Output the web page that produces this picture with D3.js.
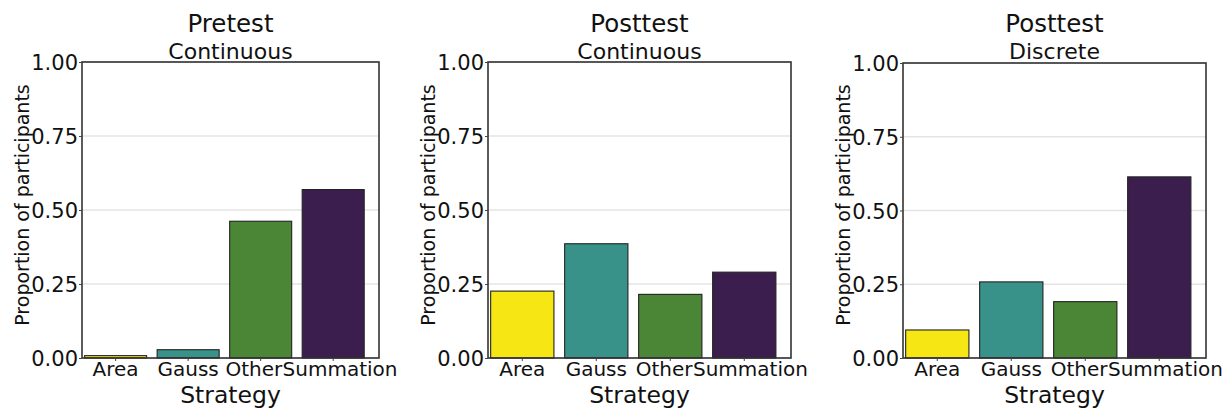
<!DOCTYPE html>
<html>
<head>
<meta charset="utf-8">
<script src="https://cdn.jsdelivr.net/npm/d3@7"></script>
<style>
    body { margin: 0; background: #fff; }
    text { font-family: "DejaVu Sans", sans-serif; fill: #111; }
</style>
</head>
<body>
<div id="chart"></div>
<script>
// values
const strategies = ['Area', 'Gauss', 'Other', 'Summation'];
const pretestContinuous = [0.008, 0.028, 0.462, 0.569];
const posttestContinuous = [0.226, 0.386, 0.215, 0.290];
const posttestDiscrete = [0.095, 0.258, 0.191, 0.614];
const panelTitles = ['Pretest', 'Posttest', 'Posttest'];
const panelSubtitles = ['Continuous', 'Continuous', 'Discrete'];
const yTicks = [0, 0.25, 0.5, 0.75, 1];

const panelValues = [pretestContinuous, posttestContinuous, posttestDiscrete];

// plot boxes (left, right, top, bottom) for each facet
const boxes = [
    {x0: 82, x1: 379, y0: 62, y1: 358},
    {x0: 488, x1: 791, y0: 62, y1: 358},
    {x0: 903, x1: 1206, y0: 63, y1: 358}
];

const colour = d3.scaleOrdinal()
    .domain(strategies)
    .range(['#f5e614', '#38928a', '#4a8635', '#3c1e4e']);

let svg = d3.select('#chart')
    .append('svg')
    .attr('width', 1222)
    .attr('height', 408);

panelValues.forEach(function(values, i) {
    let b = boxes[i];
    let g = svg.append('g');

    let xScale = d3.scaleBand()
        .domain(strategies)
        .range([b.x0, b.x1])
        .paddingInner(0.145)
        .paddingOuter(0.12)
        .align(0.15);

    let yScale = d3.scaleLinear()
        .domain([0, 1])
        .range([b.y1, b.y0]);

    // horizontal grid lines
    g.selectAll('.grid')
        .data(yTicks)
        .enter()
        .append('line')
        .attr('x1', b.x0)
        .attr('x2', b.x1)
        .attr('y1', d => yScale(d))
        .attr('y2', d => yScale(d))
        .attr('stroke', '#e4e4e4')
        .attr('stroke-width', 1.5);

    g.selectAll('.bar')
        .data(strategies)
        .enter()
        .append('rect')
        .attr('x', d => xScale(d))
        .attr('width', xScale.bandwidth())
        .attr('y', (d, j) => yScale(values[j]))
        .attr('height', (d, j) => yScale(0) - yScale(values[j]))
        .attr('fill', d => colour(d))
        .attr('stroke', '#222')
        .attr('stroke-width', 1.1);

    // panel border
    g.append('rect')
        .attr('x', b.x0)
        .attr('y', b.y0)
        .attr('width', b.x1 - b.x0)
        .attr('height', b.y1 - b.y0)
        .attr('fill', 'none')
        .attr('stroke', '#333')
        .attr('stroke-width', 1.6);

    let xAxis = d3.axisBottom(xScale).tickSize(3).tickPadding(1);
    let xAxisGroup = g.append('g')
        .attr('transform', 'translate(0,' + b.y1 + ')')
        .call(xAxis);
    xAxisGroup.select('.domain').remove();
    xAxisGroup.selectAll('line').attr('stroke', '#444');
    let xLabels = xAxisGroup.selectAll('text')
        .attr('font-size', 20)
        .attr('font-family', '"DejaVu Sans", sans-serif')
        .attr('fill', '#111');

    // long labels collide; push the last two apart so they just touch
    // (bbox is local to each tick group, so add the band centres)
    let nodes = xLabels.nodes();
    let half = s => xScale(s) + xScale.bandwidth() / 2;
    let otherRight = half('Other') + nodes[2].getBBox().width / 2;
    let summLeft = half('Summation') - nodes[3].getBBox().width / 2;
    let overlap = otherRight - summLeft;
    if (overlap > 0) {
        d3.select(nodes[2]).attr('dx', -overlap / 2);
        d3.select(nodes[3]).attr('dx', overlap / 2);
    }

    let yAxis = d3.axisLeft(yScale)
        .tickValues(yTicks)
        .tickFormat(d3.format('.2f'))
        .tickSize(3)
        .tickPadding(1);
    let yAxisGroup = g.append('g')
        .attr('transform', 'translate(' + b.x0 + ',0)')
        .call(yAxis);
    yAxisGroup.select('.domain').remove();
    yAxisGroup.selectAll('line').attr('stroke', '#444');
    yAxisGroup.selectAll('text')
        .attr('font-size', 21)
        .attr('font-family', '"DejaVu Sans", sans-serif')
        .attr('fill', '#111')
        .attr('dy', '0.36em');

    let cx = (b.x0 + b.x1) / 2;

    g.append('text')
        .attr('x', cx)
        .attr('y', 32)
        .attr('text-anchor', 'middle')
        .attr('font-size', 24.5)
        .text(panelTitles[i]);

    g.append('text')
        .attr('x', cx)
        .attr('y', 59)
        .attr('text-anchor', 'middle')
        .attr('font-size', 22)
        .text(panelSubtitles[i]);

    g.append('text')
        .attr('x', cx)
        .attr('y', 403)
        .attr('text-anchor', 'middle')
        .attr('font-size', 23.5)
        .text('Strategy');

    g.append('text')
        .attr('transform', 'translate(' + (b.x0 - 53) + ',' + 205 + ') rotate(-90)')
        .attr('text-anchor', 'middle')
        .attr('font-size', 19)
        .text('Proportion of participants');
});
</script>
</body>
</html>
